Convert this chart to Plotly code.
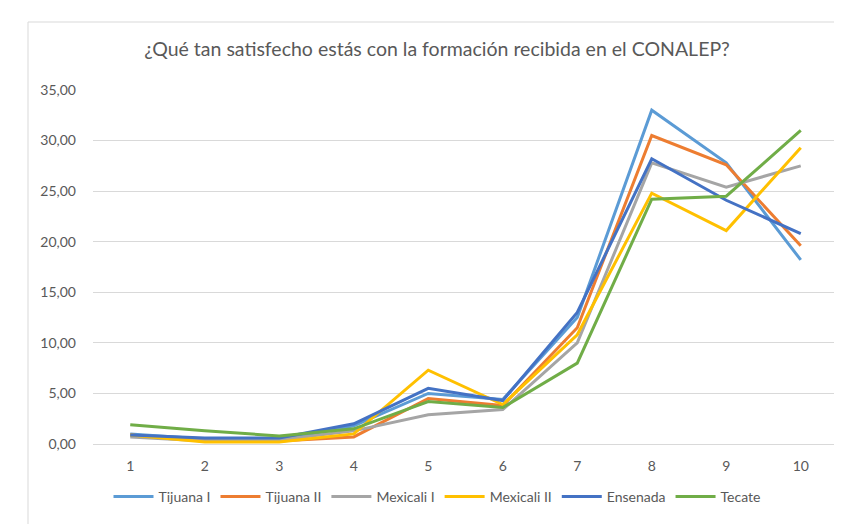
import plotly.graph_objects as go

categories = ["1", "2", "3", "4", "5", "6", "7", "8", "9", "10"]

tijuana_i = [1.0, 0.5, 0.4, 1.8, 5.0, 4.4, 12.5, 33.0, 27.8, 18.2]
tijuana_ii = [0.9, 0.3, 0.3, 0.7, 4.5, 3.8, 11.5, 30.5, 27.6, 19.6]
mexicali_i = [0.7, 0.3, 0.4, 1.3, 2.9, 3.4, 10.0, 27.8, 25.4, 27.5]
mexicali_ii = [0.9, 0.2, 0.2, 1.0, 7.3, 3.9, 10.8, 24.8, 21.1, 29.3]
ensenada = [0.9, 0.6, 0.6, 2.0, 5.5, 4.3, 13.0, 28.2, 24.1, 20.8]
tecate = [1.9, 1.3, 0.8, 1.5, 4.2, 3.6, 8.0, 24.2, 24.5, 31.0]

series_names = ["Tijuana I", "Tijuana II", "Mexicali I", "Mexicali II", "Ensenada", "Tecate"]
series_values = [tijuana_i, tijuana_ii, mexicali_i, mexicali_ii, ensenada, tecate]
colors = ["#5B9BD5", "#ED7D31", "#A5A5A5", "#FFC000", "#4472C4", "#70AD47"]

title_text = "¿Qué tan satisfecho estás con la formación recibida en el CONALEP?"
y_ticks = [0, 5, 10, 15, 20, 25, 30, 35]

L, R, T, B = 85, 830, 82, 436
W, H = 842, 524

fig = go.Figure()
for name, vals, col in zip(series_names, series_values, colors):
    fig.add_trace(go.Scatter(
        x=categories, y=vals, name=name, mode="lines",
        line=dict(color=col, width=3),
    ))

fig.update_layout(
    width=W, height=H,
    paper_bgcolor="white", plot_bgcolor="white",
    separators=",.",
    font=dict(family="Lato, Carlito, Calibri, sans-serif", color="#595959", size=14),
    title=dict(text=title_text, x=429 / W, xanchor="center", y=1 - 41 / H, yanchor="middle",
               font=dict(size=19.5, color="#595959")),
    margin=dict(l=L, r=W - R, t=T, b=H - B),
    showlegend=True,
    legend=dict(orientation="h", x=(429 - L) / (R - L), xanchor="center",
                y=(B - 489) / (B - T), yanchor="middle",
                font=dict(size=14, color="#595959"), itemwidth=40, tracegroupgap=0,
                bgcolor="rgba(0,0,0,0)"),
    xaxis=dict(type="category", range=[-0.5, 9.5], showgrid=False, showline=True,
               linecolor="#D9D9D9", linewidth=1, ticks="", ticklabelstandoff=9,
               tickfont=dict(size=14, color="#595959"),
               zeroline=False, fixedrange=True),
    yaxis=dict(range=[0, 35], tickvals=y_ticks, tickformat=".2f", showgrid=True,
               gridcolor="#D9D9D9", gridwidth=1, zeroline=False, showline=False,
               ticks="", ticklabelstandoff=16, tickfont=dict(size=14, color="#595959")),
    shapes=[dict(type="rect", xref="paper", yref="paper",
                 x0=(20 - L) / (R - L), x1=(838 - L) / (R - L),
                 y0=(B - 522) / (B - T), y1=(B - 14) / (B - T),
                 line=dict(color="#D9D9D9", width=1), fillcolor="rgba(0,0,0,0)", layer="below")],
)

fig.write_html("out.html")
